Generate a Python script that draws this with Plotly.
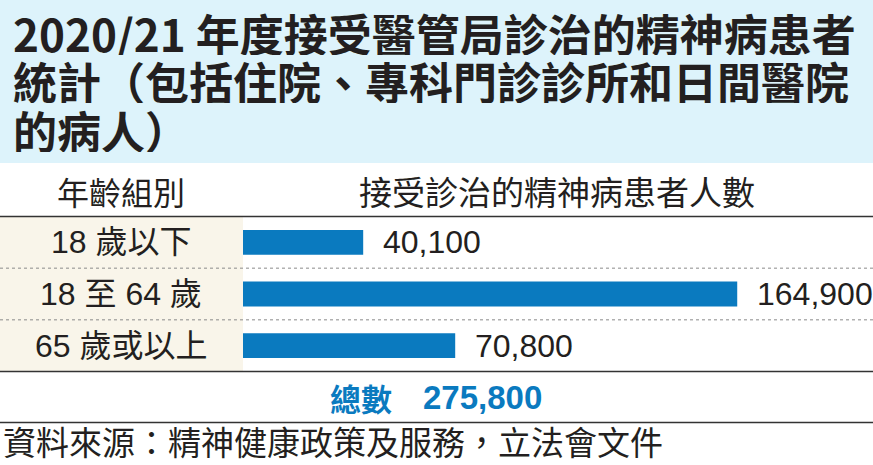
import plotly.graph_objects as go

# --- data ---
title_lines = [
    "2020/21 年度接受醫管局診治的精神病患者",
    "統計（包括住院、專科門診診所和日間醫院",
    "的病人）",
]
col_headers = ["年齡組別", "接受診治的精神病患者人數"]
age_groups = ["18 歲以下", "18 至 64 歲", "65 歲或以上"]
patients = [40100, 164900, 70800]
total_label = "總數"
total_value = 275800
source_text = "資料來源：精神健康政策及服務，立法會文件"

# --- layout constants (pixels) ---
W, H = 873, 465
LEFT_COL = 243          # right edge of the age-group column
TITLE_BOTTOM = 163
ROWS_TOP, ROWS_BOTTOM = 216.5, 371.5
TOTAL_BOTTOM = 422.5

BLUE = "#0a7abf"
INK = "#231f20"
TITLE_BG = "#ddf3fb"
BEIGE = "#f9f5ea"
CJK = "Noto Sans CJK TC"
NUM = "Liberation Sans, Noto Sans CJK TC"


def py(px):
    """Convert a pixel row (from top) into paper y."""
    return 1 - px / H


def px_x(px):
    return px / W


ys = list(range(len(age_groups)))

fig = go.Figure(
    go.Bar(
        x=patients,
        y=ys,
        orientation="h",
        marker=dict(color=BLUE, line=dict(width=0)),
        width=0.48,
        hoverinfo="skip",
    )
)

shapes = [
    # title band
    dict(type="rect", xref="paper", yref="paper", x0=0, x1=1,
         y0=py(TITLE_BOTTOM), y1=1, fillcolor=TITLE_BG, line_width=0, layer="below"),
    # age-group column background
    dict(type="rect", xref="paper", yref="paper", x0=0, x1=px_x(LEFT_COL),
         y0=py(ROWS_BOTTOM), y1=py(ROWS_TOP), fillcolor=BEIGE, line_width=0, layer="below"),
    # header underline
    dict(type="line", xref="paper", yref="paper", x0=0, x1=1,
         y0=py(ROWS_TOP), y1=py(ROWS_TOP), line=dict(color="#333333", width=1.3)),
    # bottom of the rows
    dict(type="line", xref="paper", yref="paper", x0=0, x1=1,
         y0=py(ROWS_BOTTOM), y1=py(ROWS_BOTTOM), line=dict(color="#333333", width=1.3)),
    # bottom of the total row
    dict(type="line", xref="paper", yref="paper", x0=0, x1=1,
         y0=py(TOTAL_BOTTOM), y1=py(TOTAL_BOTTOM), line=dict(color="#333333", width=1.3)),
]
# dotted row separators
row_h = (ROWS_BOTTOM - ROWS_TOP) / len(age_groups)
for i in range(1, len(age_groups)):
    yy = ROWS_TOP + i * row_h
    shapes.append(dict(type="line", xref="paper", yref="paper", x0=0, x1=1,
                       y0=py(yy), y1=py(yy),
                       line=dict(color="#8a8a8a", width=1, dash="dot")))

annotations = []
# title: three tightly spaced lines, each with a fixed-height box
title_centers = [33, 81, 130]
for line, cy in zip(title_lines, title_centers):
    annotations.append(dict(
        text=line, xref="paper", yref="paper", x=px_x(12), y=py(cy),
        xanchor="left", yanchor="middle", valign="middle", height=44,
        showarrow=False, borderpad=0,
        font=dict(family=CJK, size=44, color=INK, weight="bold"),
    ))
# column headers
annotations.append(dict(
    text=col_headers[0], xref="paper", yref="paper", x=px_x(121), y=py(191),
    xanchor="center", yanchor="middle", showarrow=False,
    font=dict(family=CJK, size=32, color=INK),
))
annotations.append(dict(
    text=col_headers[1], xref="paper", yref="paper", x=px_x(557), y=py(191),
    xanchor="center", yanchor="middle", showarrow=False,
    font=dict(family=CJK, size=33, color=INK),
))
# age-group labels and value labels
for yi, name, val in zip(ys, age_groups, patients):
    annotations.append(dict(
        text=name, xref="paper", yref="y", x=px_x(121), y=yi,
        xanchor="center", yanchor="middle", showarrow=False,
        font=dict(family=NUM, size=32, color=INK),
    ))
    annotations.append(dict(
        text=f"{val:,}", xref="x", yref="y", x=val, y=yi,
        xanchor="left", yanchor="middle", xshift=18, showarrow=False,
        font=dict(family=NUM, size=32, color=INK),
    ))
# total row
annotations.append(dict(
    text=total_label, xref="paper", yref="paper", x=px_x(394), y=py(397),
    xanchor="right", yanchor="middle", showarrow=False,
    font=dict(family=CJK, size=31, color=BLUE, weight="bold"),
))
annotations.append(dict(
    text=f"{total_value:,}", xref="paper", yref="paper", x=px_x(421), y=py(397),
    xanchor="left", yanchor="middle", showarrow=False,
    font=dict(family="Liberation Sans", size=33, color=BLUE, weight="bold"),
))
# source
annotations.append(dict(
    text=source_text, xref="paper", yref="paper", x=px_x(1), y=py(441),
    xanchor="left", yanchor="middle", showarrow=False,
    font=dict(family=CJK, size=33, color=INK),
))

fig.update_layout(
    width=W, height=H,
    margin=dict(l=0, r=0, t=0, b=0),
    paper_bgcolor="white",
    plot_bgcolor="rgba(0,0,0,0)",
    showlegend=False,
    xaxis=dict(domain=[px_x(LEFT_COL), 1], range=[0, 210200],
               visible=False, fixedrange=True),
    yaxis=dict(domain=[py(ROWS_BOTTOM), py(ROWS_TOP)], range=[2.5, -0.5],
               visible=False, fixedrange=True),
    shapes=shapes,
    annotations=annotations,
)

fig.write_html("out.html", config={"displayModeBar": False})
